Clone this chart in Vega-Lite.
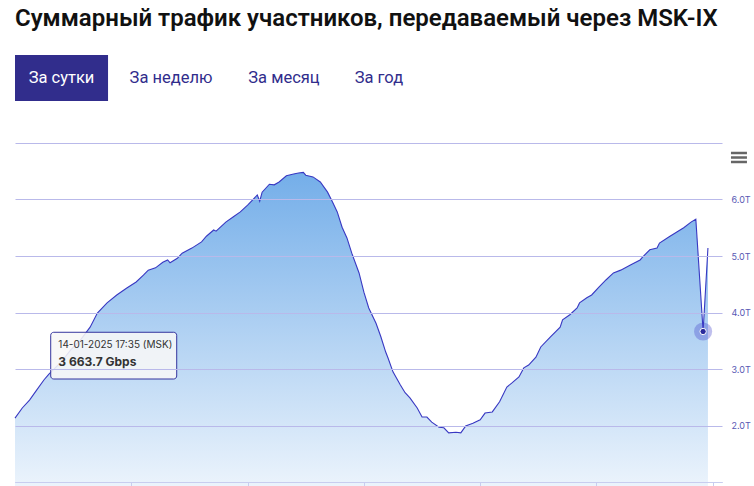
{
  "$schema": "https://vega.github.io/schema/vega-lite/v6.json",
  "width": 707,
  "height": 339,
  "autosize": {"type": "none"},
  "padding": {"left": 15, "top": 143, "right": 32, "bottom": 4},
  "background": "#ffffff",
  "config": {"view": {"stroke": null}},
  "title": {
    "text": "Суммарный трафик участников, передаваемый через MSK-IX",
    "anchor": "start",
    "frame": "group",
    "baseline": "alphabetic",
    "offset": 5,
    "font": "Roboto",
    "fontSize": 24,
    "fontWeight": 600,
    "color": "#111111"
  },
  "datasets": {
    "traffic": [
      {"time": "2025-01-13T17:55", "gbps": 2130},
      {"time": "2025-01-13T18:10", "gbps": 2310},
      {"time": "2025-01-13T18:25", "gbps": 2450},
      {"time": "2025-01-13T18:40", "gbps": 2630},
      {"time": "2025-01-13T18:55", "gbps": 2810},
      {"time": "2025-01-13T19:05", "gbps": 2910},
      {"time": "2025-01-13T19:30", "gbps": 3120},
      {"time": "2025-01-13T19:50", "gbps": 3340},
      {"time": "2025-01-13T20:10", "gbps": 3510},
      {"time": "2025-01-13T20:30", "gbps": 3740},
      {"time": "2025-01-13T20:45", "gbps": 3990},
      {"time": "2025-01-13T21:05", "gbps": 4170},
      {"time": "2025-01-13T21:25", "gbps": 4310},
      {"time": "2025-01-13T21:45", "gbps": 4430},
      {"time": "2025-01-13T22:05", "gbps": 4540},
      {"time": "2025-01-13T22:20", "gbps": 4660},
      {"time": "2025-01-13T22:30", "gbps": 4750},
      {"time": "2025-01-13T22:45", "gbps": 4790},
      {"time": "2025-01-13T23:00", "gbps": 4890},
      {"time": "2025-01-13T23:10", "gbps": 4930},
      {"time": "2025-01-13T23:15", "gbps": 4880},
      {"time": "2025-01-13T23:30", "gbps": 4960},
      {"time": "2025-01-13T23:40", "gbps": 5050},
      {"time": "2025-01-14T00:00", "gbps": 5140},
      {"time": "2025-01-14T00:20", "gbps": 5250},
      {"time": "2025-01-14T00:30", "gbps": 5350},
      {"time": "2025-01-14T00:45", "gbps": 5460},
      {"time": "2025-01-14T00:50", "gbps": 5440},
      {"time": "2025-01-14T01:10", "gbps": 5600},
      {"time": "2025-01-14T01:25", "gbps": 5690},
      {"time": "2025-01-14T01:40", "gbps": 5780},
      {"time": "2025-01-14T01:55", "gbps": 5900},
      {"time": "2025-01-14T02:05", "gbps": 5990},
      {"time": "2025-01-14T02:15", "gbps": 6080},
      {"time": "2025-01-14T02:20", "gbps": 5970},
      {"time": "2025-01-14T02:25", "gbps": 6130},
      {"time": "2025-01-14T02:40", "gbps": 6270},
      {"time": "2025-01-14T02:50", "gbps": 6260},
      {"time": "2025-01-14T03:00", "gbps": 6310},
      {"time": "2025-01-14T03:15", "gbps": 6420},
      {"time": "2025-01-14T03:30", "gbps": 6450},
      {"time": "2025-01-14T03:40", "gbps": 6470},
      {"time": "2025-01-14T03:50", "gbps": 6480},
      {"time": "2025-01-14T03:55", "gbps": 6430},
      {"time": "2025-01-14T04:10", "gbps": 6400},
      {"time": "2025-01-14T04:25", "gbps": 6310},
      {"time": "2025-01-14T04:40", "gbps": 6130},
      {"time": "2025-01-14T04:50", "gbps": 5960},
      {"time": "2025-01-14T05:00", "gbps": 5780},
      {"time": "2025-01-14T05:10", "gbps": 5510},
      {"time": "2025-01-14T05:20", "gbps": 5320},
      {"time": "2025-01-14T05:30", "gbps": 5050},
      {"time": "2025-01-14T05:45", "gbps": 4700},
      {"time": "2025-01-14T05:55", "gbps": 4360},
      {"time": "2025-01-14T06:05", "gbps": 4080},
      {"time": "2025-01-14T06:20", "gbps": 3810},
      {"time": "2025-01-14T06:30", "gbps": 3570},
      {"time": "2025-01-14T06:40", "gbps": 3300},
      {"time": "2025-01-14T06:45", "gbps": 3190},
      {"time": "2025-01-14T06:55", "gbps": 2950},
      {"time": "2025-01-14T07:10", "gbps": 2720},
      {"time": "2025-01-14T07:20", "gbps": 2580},
      {"time": "2025-01-14T07:30", "gbps": 2490},
      {"time": "2025-01-14T07:45", "gbps": 2310},
      {"time": "2025-01-14T07:55", "gbps": 2150},
      {"time": "2025-01-14T08:05", "gbps": 2150},
      {"time": "2025-01-14T08:15", "gbps": 2060},
      {"time": "2025-01-14T08:30", "gbps": 1970},
      {"time": "2025-01-14T08:40", "gbps": 1960},
      {"time": "2025-01-14T08:50", "gbps": 1870},
      {"time": "2025-01-14T09:05", "gbps": 1880},
      {"time": "2025-01-14T09:15", "gbps": 1870},
      {"time": "2025-01-14T09:25", "gbps": 1990},
      {"time": "2025-01-14T09:40", "gbps": 2040},
      {"time": "2025-01-14T09:55", "gbps": 2100},
      {"time": "2025-01-14T10:05", "gbps": 2220},
      {"time": "2025-01-14T10:20", "gbps": 2240},
      {"time": "2025-01-14T10:35", "gbps": 2420},
      {"time": "2025-01-14T10:50", "gbps": 2680},
      {"time": "2025-01-14T11:00", "gbps": 2750},
      {"time": "2025-01-14T11:15", "gbps": 2860},
      {"time": "2025-01-14T11:25", "gbps": 3020},
      {"time": "2025-01-14T11:35", "gbps": 3070},
      {"time": "2025-01-14T11:50", "gbps": 3210},
      {"time": "2025-01-14T12:00", "gbps": 3390},
      {"time": "2025-01-14T12:20", "gbps": 3570},
      {"time": "2025-01-14T12:40", "gbps": 3740},
      {"time": "2025-01-14T12:45", "gbps": 3870},
      {"time": "2025-01-14T13:00", "gbps": 3960},
      {"time": "2025-01-14T13:15", "gbps": 4080},
      {"time": "2025-01-14T13:20", "gbps": 4170},
      {"time": "2025-01-14T13:35", "gbps": 4260},
      {"time": "2025-01-14T13:45", "gbps": 4310},
      {"time": "2025-01-14T14:00", "gbps": 4450},
      {"time": "2025-01-14T14:15", "gbps": 4580},
      {"time": "2025-01-14T14:30", "gbps": 4700},
      {"time": "2025-01-14T14:45", "gbps": 4750},
      {"time": "2025-01-14T15:05", "gbps": 4840},
      {"time": "2025-01-14T15:25", "gbps": 4930},
      {"time": "2025-01-14T15:30", "gbps": 4980},
      {"time": "2025-01-14T15:45", "gbps": 5110},
      {"time": "2025-01-14T16:00", "gbps": 5140},
      {"time": "2025-01-14T16:05", "gbps": 5230},
      {"time": "2025-01-14T16:25", "gbps": 5340},
      {"time": "2025-01-14T16:40", "gbps": 5420},
      {"time": "2025-01-14T16:55", "gbps": 5500},
      {"time": "2025-01-14T17:10", "gbps": 5600},
      {"time": "2025-01-14T17:20", "gbps": 5650},
      {"time": "2025-01-14T17:35", "gbps": 3663.7},
      {"time": "2025-01-14T17:45", "gbps": 5140}
    ],
    "tooltip": [
      {"line1": "14-01-2025 17:35 (MSK)", "line2": "3 663.7 Gbps"}
    ],
    "tabs": [
      {"tab1": "За сутки", "tab2": "За неделю", "tab3": "За месяц", "tab4": "За год"}
    ]
  },
  "layer": [
    {
      "data": {"name": "traffic"},
      "mark": {
        "type": "area",
        "opacity": 1,
        "line": {"color": "#3838c2", "strokeWidth": 1.1},
        "fill": {
          "gradient": "linear",
          "x1": 1, "y1": 1, "x2": 1, "y2": 0,
          "stops": [
            {"offset": 0, "color": "#ffffff"},
            {"offset": 1, "color": "#74aee9"}
          ]
        }
      },
      "encoding": {
        "x": {
          "field": "time",
          "type": "temporal",
          "scale": {
            "domain": [
              {"year": 2025, "month": 1, "date": 13, "hours": 17, "minutes": 55},
              {"year": 2025, "month": 1, "date": 14, "hours": 18, "minutes": 14}
            ],
            "nice": false
          },
          "axis": {
            "title": null,
            "labels": false,
            "grid": false,
            "zindex": 1,
            "domainColor": "#c8cdef",
            "tickColor": "#c8cdef",
            "tickSize": 8,
            "values": [
              {"year": 2025, "month": 1, "date": 13, "hours": 21, "minutes": 55},
              {"year": 2025, "month": 1, "date": 14, "hours": 1, "minutes": 55},
              {"year": 2025, "month": 1, "date": 14, "hours": 5, "minutes": 55},
              {"year": 2025, "month": 1, "date": 14, "hours": 9, "minutes": 55},
              {"year": 2025, "month": 1, "date": 14, "hours": 13, "minutes": 55},
              {"year": 2025, "month": 1, "date": 14, "hours": 17, "minutes": 55}
            ]
          }
        },
        "y": {
          "field": "gbps",
          "type": "quantitative",
          "scale": {"domain": [1000, 7000], "nice": false, "zero": false},
          "axis": {
            "title": null,
            "orient": "right",
            "zindex": 1,
            "values": [1000, 2000, 3000, 4000, 5000, 6000, 7000],
            "labelExpr": "datum.value >= 2000 && datum.value <= 6000 ? format(datum.value / 1000, '.1f') + 'T' : ''",
            "domain": false,
            "ticks": false,
            "grid": true,
            "gridColor": "#b9b9ea",
            "gridWidth": 1,
            "labelPadding": 9,
            "labelFont": "Inter",
            "labelFontSize": 9,
            "labelColor": "#5858b4"
          }
        }
      }
    },
    {
      "data": {"name": "traffic"},
      "transform": [{"filter": "datum.gbps == 3663.7"}],
      "mark": {"type": "point", "filled": true, "size": 330, "color": "#4848cc", "opacity": 0.35, "strokeWidth": 0},
      "encoding": {
        "x": {"field": "time", "type": "temporal"},
        "y": {"field": "gbps", "type": "quantitative"}
      }
    },
    {
      "data": {"name": "traffic"},
      "transform": [{"filter": "datum.gbps == 3663.7"}],
      "mark": {"type": "point", "filled": true, "size": 40, "fill": "#2a2a9c", "stroke": "#ffffff", "strokeWidth": 1, "opacity": 1},
      "encoding": {
        "x": {"field": "time", "type": "temporal"},
        "y": {"field": "gbps", "type": "quantitative"}
      }
    },
    {
      "data": {"name": "tooltip"},
      "mark": {"type": "rect", "fill": "#f7f7f7", "fillOpacity": 0.88, "stroke": "#34349e", "strokeWidth": 1, "cornerRadius": 3},
      "encoding": {
        "x": {"datum": {"year": 2025, "month": 1, "date": 13, "hours": 19, "minutes": 8, "seconds": 42}, "type": "temporal"},
        "x2": {"datum": {"year": 2025, "month": 1, "date": 13, "hours": 23, "minutes": 28, "seconds": 42}},
        "y": {"datum": 3650, "type": "quantitative"},
        "y2": {"datum": 2823}
      }
    },
    {
      "data": {"name": "tooltip"},
      "mark": {"type": "text", "align": "left", "baseline": "alphabetic", "font": "Inter", "fontSize": 10, "color": "#333333"},
      "encoding": {
        "x": {"datum": {"year": 2025, "month": 1, "date": 13, "hours": 19, "minutes": 24, "seconds": 24}, "type": "temporal"},
        "y": {"datum": 3363, "type": "quantitative"},
        "text": {"field": "line1"}
      }
    },
    {
      "data": {"name": "tooltip"},
      "mark": {"type": "text", "align": "left", "baseline": "alphabetic", "font": "Inter", "fontSize": 12, "fontWeight": "bold", "color": "#333333"},
      "encoding": {
        "x": {"datum": {"year": 2025, "month": 1, "date": 13, "hours": 19, "minutes": 24, "seconds": 24}, "type": "temporal"},
        "y": {"datum": 3053, "type": "quantitative"},
        "text": {"field": "line2"}
      }
    },
    {
      "data": {"name": "tabs"},
      "mark": {"type": "rect", "fill": "#312d8c"},
      "encoding": {
        "x": {"datum": {"year": 2025, "month": 1, "date": 13, "hours": 17, "minutes": 55}, "type": "temporal"},
        "x2": {"datum": {"year": 2025, "month": 1, "date": 13, "hours": 21, "minutes": 7}},
        "y": {"datum": 8557, "type": "quantitative"},
        "y2": {"datum": 7743}
      }
    },
    {
      "data": {"name": "tabs"},
      "mark": {"type": "text", "align": "center", "baseline": "middle", "font": "Roboto", "fontSize": 16.5, "color": "#ffffff"},
      "encoding": {
        "x": {"datum": {"year": 2025, "month": 1, "date": 13, "hours": 19, "minutes": 31}, "type": "temporal"},
        "y": {"datum": 8150, "type": "quantitative"},
        "text": {"field": "tab1"}
      }
    },
    {
      "data": {"name": "tabs"},
      "mark": {"type": "text", "align": "center", "baseline": "middle", "font": "Roboto", "fontSize": 16.5, "color": "#312d8c"},
      "encoding": {
        "x": {"datum": {"year": 2025, "month": 1, "date": 13, "hours": 23, "minutes": 17}, "type": "temporal"},
        "y": {"datum": 8150, "type": "quantitative"},
        "text": {"field": "tab2"}
      }
    },
    {
      "data": {"name": "tabs"},
      "mark": {"type": "text", "align": "center", "baseline": "middle", "font": "Roboto", "fontSize": 16.5, "color": "#312d8c"},
      "encoding": {
        "x": {"datum": {"year": 2025, "month": 1, "date": 14, "hours": 3, "minutes": 10}, "type": "temporal"},
        "y": {"datum": 8150, "type": "quantitative"},
        "text": {"field": "tab3"}
      }
    },
    {
      "data": {"name": "tabs"},
      "mark": {"type": "text", "align": "center", "baseline": "middle", "font": "Roboto", "fontSize": 16.5, "color": "#312d8c"},
      "encoding": {
        "x": {"datum": {"year": 2025, "month": 1, "date": 14, "hours": 6, "minutes": 26}, "type": "temporal"},
        "y": {"datum": 8150, "type": "quantitative"},
        "text": {"field": "tab4"}
      }
    },
    {
      "data": {"name": "tabs"},
      "mark": {"type": "rule", "color": "#666666", "strokeWidth": 2.5},
      "encoding": {
        "x": {"datum": {"year": 2025, "month": 1, "date": 14, "hours": 18, "minutes": 32, "seconds": 30}, "type": "temporal"},
        "x2": {"datum": {"year": 2025, "month": 1, "date": 14, "hours": 19, "minutes": 5, "seconds": 30}},
        "y": {"datum": 6823, "type": "quantitative"}
      }
    },
    {
      "data": {"name": "tabs"},
      "mark": {"type": "rule", "color": "#666666", "strokeWidth": 2.5},
      "encoding": {
        "x": {"datum": {"year": 2025, "month": 1, "date": 14, "hours": 18, "minutes": 32, "seconds": 30}, "type": "temporal"},
        "x2": {"datum": {"year": 2025, "month": 1, "date": 14, "hours": 19, "minutes": 5, "seconds": 30}},
        "y": {"datum": 6743, "type": "quantitative"}
      }
    },
    {
      "data": {"name": "tabs"},
      "mark": {"type": "rule", "color": "#666666", "strokeWidth": 2.5},
      "encoding": {
        "x": {"datum": {"year": 2025, "month": 1, "date": 14, "hours": 18, "minutes": 32, "seconds": 30}, "type": "temporal"},
        "x2": {"datum": {"year": 2025, "month": 1, "date": 14, "hours": 19, "minutes": 5, "seconds": 30}},
        "y": {"datum": 6664, "type": "quantitative"}
      }
    }
  ]
}
